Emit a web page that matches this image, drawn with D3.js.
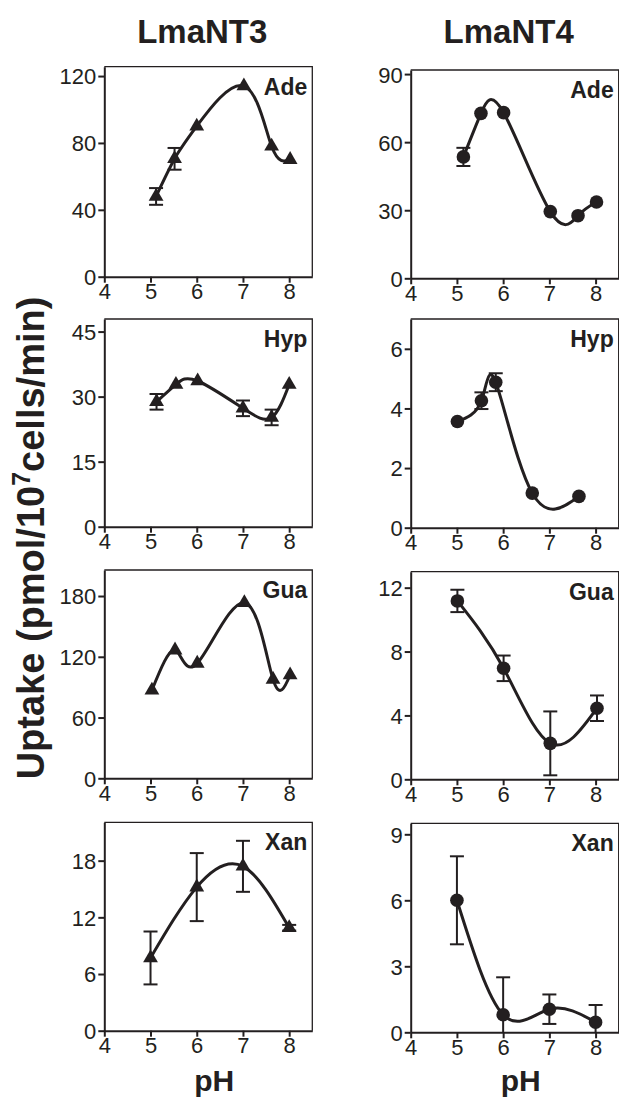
<!DOCTYPE html>
<html>
<head>
<meta charset="utf-8">
<script src="https://cdn.jsdelivr.net/npm/d3@7"></script>
<style>
  body { margin: 0; background: #fff; }
  svg { display: block; font-family: 'Liberation Sans', Arial, sans-serif; }
</style>
</head>
<body>
<svg id="chart" width="619" height="1097"></svg>
<script>
// pH values and uptake readings
const phNT3Ade = [5.12, 5.52, 6.0, 7.02, 7.62, 8.02]
const nt3Ade = [48, 70.5, 90, 114, 78, 70]
const nt3AdeErr = [5, 6.5, 0, 0, 0, 0]

const phNT4Ade = [5.14, 5.52, 6.01, 7.02, 7.62, 8.02]
const nt4Ade = [53.5, 72.7, 73, 29.4, 27.6, 33.6]
const nt4AdeErr = [4, 0, 0, 0, 0, 0]

const phNT3Hyp = [5.13, 5.55, 6.02, 7.0, 7.62, 8.0]
const nt3Hyp = [28.8, 32.8, 33.6, 27.3, 25.2, 32.8]
const nt3HypErr = [1.8, 0, 0, 1.8, 1.8, 0]

const phNT4Hyp = [5.01, 5.53, 5.84, 6.63, 7.64]
const nt4Hyp = [3.56, 4.26, 4.88, 1.16, 1.05]
const nt4HypErr = [0, 0.28, 0.3, 0, 0]

const phNT3Gua = [5.03, 5.53, 6.01, 7.03, 7.65, 8.02]
const nt3Gua = [87, 126.6, 113.5, 173.4, 97.7, 102]
const nt3GuaErr = [0, 0, 0, 0, 0, 0]

const phNT4Gua = [5.01, 6.01, 7.02, 8.03]
const nt4Gua = [11.17, 6.95, 2.25, 4.45]
const nt4GuaErr = [0.7, 0.8, 2.0, 0.8]

const phNT3Xan = [5, 6, 7, 8]
const nt3Xan = [7.7, 15.2, 17.4, 10.9]
const nt3XanErr = [2.8, 3.6, 2.7, 0.3]

const phNT4Xan = [5, 6, 7, 8]
const nt4Xan = [6, 0.8, 1.05, 0.46]
const nt4XanErr = [2.0, 1.7, 0.67, 0.78]

const xTicks = [4, 5, 6, 7, 8]
const columns = ['LmaNT3', 'LmaNT4']

const panels = [
  { col: 0, row: 0, label: 'Ade', ph: phNT3Ade, y: nt3Ade, err: nt3AdeErr, yMax: 125.6, ticks: [0, 40, 80, 120] },
  { col: 1, row: 0, label: 'Ade', ph: phNT4Ade, y: nt4Ade, err: nt4AdeErr, yMax: 91.8, ticks: [0, 30, 60, 90] },
  { col: 0, row: 1, label: 'Hyp', ph: phNT3Hyp, y: nt3Hyp, err: nt3HypErr, yMax: 47.9, ticks: [0, 15, 30, 45] },
  { col: 1, row: 1, label: 'Hyp', ph: phNT4Hyp, y: nt4Hyp, err: nt4HypErr, yMax: 7.0, ticks: [0, 2, 4, 6] },
  { col: 0, row: 2, label: 'Gua', ph: phNT3Gua, y: nt3Gua, err: nt3GuaErr, yMax: 205.7, ticks: [0, 60, 120, 180] },
  { col: 1, row: 2, label: 'Gua', ph: phNT4Gua, y: nt4Gua, err: nt4GuaErr, yMax: 13.0, ticks: [0, 4, 8, 12] },
  { col: 0, row: 3, label: 'Xan', ph: phNT3Xan, y: nt3Xan, err: nt3XanErr, yMax: 22.06, ticks: [0, 6, 12, 18] },
  { col: 1, row: 3, label: 'Xan', ph: phNT4Xan, y: nt4Xan, err: nt4XanErr, yMax: 9.5, ticks: [0, 3, 6, 9] }
]

const sizes = {
  left: [104.3, 410.7],
  width: 208,
  tops: [[66.7, 319, 570, 822.3], [70, 319, 571.7, 823.3]],
  bottoms: [[276.7, 526.7, 778.3, 1030.7], [278.3, 527.7, 779.3, 1032.3]]
}
const ink = '#231f20'

const svg = d3.select('#chart')

panels.forEach(p => {
  const x0 = sizes.left[p.col]
  const top = sizes.tops[p.col][p.row]
  const bottom = sizes.bottoms[p.col][p.row]
  const x = d3.scaleLinear().domain([4, 8.5]).range([x0, x0 + sizes.width])
  const y = d3.scaleLinear().domain([0, p.yMax]).range([bottom, top])
  const g = svg.append('g')

  // frame (top and right sides)
  g.append('path')
    .attr('d', `M${x0},${top}H${x0 + sizes.width}V${bottom}`)
    .attr('fill', 'none')
    .attr('stroke', ink)
    .attr('stroke-width', 1.3)

  const ax = g.append('g')
    .attr('transform', `translate(0,${bottom})`)
    .call(d3.axisBottom(x).tickValues(xTicks).tickFormat(d3.format('d')).tickSize(6).tickSizeOuter(0).tickPadding(1))
  const ay = g.append('g')
    .attr('transform', `translate(${x0},0)`)
    .call(d3.axisLeft(y).tickValues(p.ticks).tickFormat(d3.format('d')).tickSize(6).tickSizeOuter(0).tickPadding(2))
  ;[ax, ay].forEach(a => {
    a.select('.domain').attr('stroke', ink).attr('stroke-width', 2)
    a.selectAll('.tick line').attr('stroke', ink).attr('stroke-width', 2)
    a.selectAll('.tick text')
      .attr('fill', ink)
      .style('font-size', '22px')
      .style('font-family', "'Liberation Sans', Arial, sans-serif")
  })
  ay.selectAll('.tick text').attr('dy', '0.36em')

  const pts = p.ph.map((v, i) => ({ ph: v, val: p.y[i], err: p.err[i] }))

  // fitted curve
  g.append('path')
    .datum(pts)
    .attr('fill', 'none')
    .attr('stroke', ink)
    .attr('stroke-width', 3)
    .attr('d', d3.line().x(d => x(d.ph)).y(d => y(d.val)).curve(d3.curveNatural))

  // error bars
  const eb = g.selectAll('.err')
    .data(pts.filter(d => d.err > 0))
    .enter()
    .append('g')
    .attr('class', 'err')
  eb.append('line')
    .attr('x1', d => x(d.ph)).attr('x2', d => x(d.ph))
    .attr('y1', d => y(Math.max(0, d.val - d.err)))
    .attr('y2', d => y(d.val + d.err))
    .attr('stroke', ink).attr('stroke-width', 2)
  eb.append('line')
    .attr('x1', d => x(d.ph) - 7).attr('x2', d => x(d.ph) + 7)
    .attr('y1', d => y(d.val + d.err)).attr('y2', d => y(d.val + d.err))
    .attr('stroke', ink).attr('stroke-width', 2)
  eb.filter(d => d.val - d.err > 0)
    .append('line')
    .attr('x1', d => x(d.ph) - 7).attr('x2', d => x(d.ph) + 7)
    .attr('y1', d => y(d.val - d.err)).attr('y2', d => y(d.val - d.err))
    .attr('stroke', ink).attr('stroke-width', 2)

  // markers
  const sym = p.col === 0 ? d3.symbolTriangle : d3.symbolCircle
  const symSize = p.col === 0 ? 95 : 145
  g.selectAll('.pt')
    .data(pts)
    .enter()
    .append('path')
    .attr('class', 'pt')
    .attr('transform', d => `translate(${x(d.ph)},${y(d.val)})`)
    .attr('d', d3.symbol().type(sym).size(symSize))
    .attr('fill', ink)

  g.append('text')
    .attr('x', x0 + sizes.width - 5)
    .attr('y', top + 28)
    .attr('text-anchor', 'end')
    .attr('font-weight', 'bold')
    .attr('font-size', 23)
    .attr('fill', ink)
    .text(p.label)
})

// column titles
svg.selectAll('.coltitle')
  .data(columns)
  .enter()
  .append('text')
  .attr('class', 'coltitle')
  .attr('x', (d, i) => sizes.left[i] + 98)
  .attr('y', 43)
  .attr('text-anchor', 'middle')
  .attr('font-weight', 'bold')
  .attr('font-size', 33)
  .attr('fill', ink)
  .text(d => d)

// x labels
svg.selectAll('.xlab')
  .data(columns)
  .enter()
  .append('text')
  .attr('class', 'xlab')
  .attr('x', (d, i) => sizes.left[i] + 110)
  .attr('y', 1091)
  .attr('text-anchor', 'middle')
  .attr('font-weight', 'bold')
  .attr('font-size', 30)
  .attr('fill', ink)
  .text('pH')

// y label
const yl = svg.append('text')
  .attr('transform', 'translate(44,538) rotate(-90)')
  .attr('text-anchor', 'middle')
  .attr('font-weight', 'bold')
  .attr('font-size', 38)
  .attr('fill', ink)
yl.append('tspan').text('Uptake (pmol/10')
yl.append('tspan').attr('dy', -14).attr('font-size', 25).text('7')
yl.append('tspan').attr('dy', 14).text('cells/min)')
</script>
</body>
</html>
